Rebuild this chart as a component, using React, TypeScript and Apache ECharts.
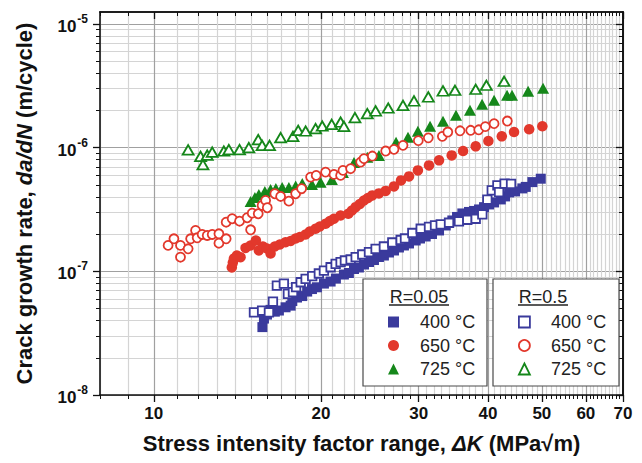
import React, { useEffect, useRef } from 'react';
import * as echarts from 'echarts';

const FONT = '"Liberation Sans", Arial, Helvetica, sans-serif';
const BLUE = '#3a3a9c';
const RED = '#e2382c';
const GREEN = '#15871a';

// Axis ticks
const xMajorTicks = [10, 20, 30, 40, 50, 60, 70];
const yMajorTicks = [1e-8, 1e-7, 1e-6, 1e-5];
const xMinorTicks: number[] = [];
for (let k = 8; k < 70; k++) if (k % 10 !== 0) xMinorTicks.push(k);
const yMinorTicks: number[] = [];
for (let e = -8; e <= -6; e++) for (let m = 2; m <= 9; m++) yMinorTicks.push(m * Math.pow(10, e));

// Legend labels
const temperatures = ['400 °C', '650 °C', '725 °C'];
const ratios = ['R=0.05', 'R=0.5'];

// [ΔK (MPa√m), da/dN (m/cycle)]
const r005_400: [number, number][] = [
  [15.69, 3.54e-8], [15.79, 4.15e-8], [15.99, 4.47e-8], [16.23, 4.88e-8], [16.52, 4.72e-8], [16.8, 4.82e-8],
  [17.27, 5.12e-8], [17.64, 5.28e-8], [17.76, 5.75e-8], [18.11, 6.14e-8], [18.51, 6.31e-8], [18.89, 6.86e-8],
  [19.27, 7.19e-8], [19.67, 7.43e-8], [20.25, 7.96e-8], [20.82, 8.27e-8], [21.28, 8.74e-8], [22.0, 9.42e-8],
  [22.46, 9.69e-8], [22.94, 1.044e-7], [23.41, 1.074e-7], [23.91, 1.135e-7], [24.41, 1.189e-7], [24.92, 1.234e-7],
  [25.44, 1.305e-7], [25.97, 1.342e-7], [26.52, 1.42e-7], [27.08, 1.474e-7], [27.64, 1.559e-7], [28.22, 1.618e-7],
  [28.82, 1.68e-7], [29.63, 1.776e-7], [30.16, 1.843e-7], [30.88, 1.913e-7], [31.7, 2.004e-7], [32.64, 2.14e-7],
  [33.56, 2.349e-7], [34.49, 2.578e-7], [35.17, 2.752e-7], [35.95, 2.938e-7], [36.96, 3.021e-7], [37.74, 3.078e-7],
  [38.53, 3.165e-7], [39.34, 3.304e-7], [40.17, 3.474e-7], [41.01, 3.606e-7], [42.17, 3.814e-7], [42.93, 4.033e-7],
  [43.65, 4.345e-7], [44.74, 4.427e-7], [46.11, 4.683e-7], [46.77, 4.816e-7], [48.07, 5.266e-7], [49.77, 5.61e-7],
];
const r005_650: [number, number][] = [
  [13.82, 1.074e-7], [13.88, 1.178e-7], [13.94, 1.269e-7], [14.11, 1.342e-7], [14.33, 1.301e-7], [14.63, 1.544e-7],
  [14.94, 1.618e-7], [15.27, 1.776e-7], [15.46, 1.474e-7], [15.72, 1.588e-7], [15.99, 1.53e-7], [16.23, 1.393e-7],
  [16.52, 1.588e-7], [16.87, 1.648e-7], [17.27, 1.72e-7], [17.64, 1.759e-7], [18.01, 1.843e-7], [18.33, 1.895e-7],
  [18.77, 1.986e-7], [19.1, 2.101e-7], [19.56, 2.209e-7], [19.91, 2.306e-7], [20.39, 2.424e-7], [20.76, 2.554e-7],
  [21.11, 2.662e-7], [21.7, 2.83e-7], [22.4, 2.921e-7], [22.75, 3.107e-7], [23.1, 3.304e-7], [23.51, 3.507e-7],
  [23.91, 3.743e-7], [24.31, 3.922e-7], [24.75, 4.11e-7], [25.44, 4.266e-7], [26.16, 4.469e-7], [27.08, 4.86e-7],
  [27.88, 5.435e-7], [28.82, 5.855e-7], [29.9, 6.549e-7], [31.31, 7.189e-7], [32.64, 7.892e-7], [34.4, 8.66e-7],
  [36.06, 9.39e-7], [38.0, 1.0245e-6], [40.05, 1.131e-6], [42.34, 1.234e-6], [44.55, 1.338e-6], [47.43, 1.407e-6],
  [50.1, 1.488e-6],
];
const r005_725: [number, number][] = [
  [14.94, 3.67e-7], [15.21, 3.96e-7], [15.46, 4.185e-7], [15.85, 4.427e-7], [16.23, 4.596e-7], [16.59, 4.68e-7],
  [17.03, 4.77e-7], [17.51, 4.77e-7], [18.01, 4.906e-7], [18.51, 5.14e-7], [19.27, 5.04e-7], [19.97, 5.24e-7],
  [20.93, 5.54e-7], [21.91, 6.31e-7], [22.94, 7.6e-7], [24.24, 8.35e-7], [25.44, 8.66e-7], [27.31, 1.104e-6],
  [28.7, 1.212e-6], [29.9, 1.355e-6], [31.45, 1.488e-6], [33.18, 1.633e-6], [35.02, 1.826e-6], [37.11, 2.005e-6],
  [39.02, 2.242e-6], [41.01, 2.415e-6], [43.28, 2.652e-6], [44.18, 2.652e-6], [47.23, 2.857e-6], [50.25, 3.021e-6],
];
const r05_400: [number, number][] = [
  [15.15, 4.66e-8], [15.67, 4.82e-8], [16.12, 4.66e-8], [16.39, 5.69e-8], [16.66, 7.67e-8], [17.15, 7.96e-8],
  [17.44, 6.57e-8], [17.81, 6.8e-8], [18.04, 7.46e-8], [18.39, 8.16e-8], [18.77, 8.7e-8], [19.29, 9.16e-8],
  [19.83, 9.6e-8], [20.25, 1.015e-7], [20.82, 1.079e-7], [21.26, 1.15e-7], [21.7, 1.189e-7], [22.09, 1.223e-7],
  [22.62, 1.246e-7], [23.1, 1.301e-7], [23.74, 1.368e-7], [24.41, 1.428e-7], [25.09, 1.521e-7], [25.97, 1.588e-7],
  [26.89, 1.711e-7], [27.84, 1.792e-7], [28.34, 1.843e-7], [29.22, 2.042e-7], [30.25, 2.209e-7], [31.31, 2.284e-7],
  [32.1, 2.349e-7], [32.87, 2.393e-7], [34.02, 2.47e-7], [35.45, 2.53e-7], [36.7, 2.612e-7], [38.0, 2.662e-7],
  [39.06, 2.883e-7], [39.88, 3.793e-7], [40.62, 4.51e-7], [41.58, 4.951e-7], [41.87, 4.37e-7], [42.84, 5.111e-7],
  [44.0, 5.092e-7],
];
const r05_650: [number, number][] = [
  [10.61, 1.62e-7], [10.87, 1.833e-7], [11.17, 1.62e-7], [11.17, 1.301e-7], [11.53, 1.521e-7], [11.65, 1.833e-7],
  [11.89, 2.14e-7], [11.97, 1.867e-7], [12.22, 1.986e-7], [12.48, 1.95e-7], [12.74, 1.986e-7], [13.1, 2.012e-7],
  [13.1, 1.689e-7], [13.5, 1.833e-7], [13.5, 2.497e-7], [13.84, 2.662e-7], [14.27, 2.544e-7], [14.73, 2.712e-7],
  [14.94, 2.168e-7], [15.04, 2.954e-7], [15.42, 2.921e-7], [15.67, 3.41e-7], [15.9, 3.743e-7], [16.01, 3.267e-7],
  [16.52, 4.24e-7], [16.92, 4.033e-7], [17.51, 3.694e-7], [18.01, 4.24e-7], [18.46, 4.656e-7], [19.16, 5.78e-7],
  [19.61, 5.966e-7], [20.39, 6.345e-7], [21.11, 6.078e-7], [21.7, 5.966e-7], [21.91, 6.549e-7], [22.62, 6.761e-7],
  [23.58, 7.646e-7], [23.91, 8.146e-7], [24.75, 8.55e-7], [26.16, 9.39e-7], [27.08, 9.69e-7], [28.11, 1.044e-6],
  [29.95, 1.139e-6], [31.22, 1.2e-6], [33.09, 1.234e-6], [33.85, 1.338e-6], [35.61, 1.368e-6], [37.22, 1.381e-6],
  [38.48, 1.394e-6], [39.55, 1.479e-6], [41.01, 1.564e-6], [43.33, 1.642e-6],
];
const r05_725: [number, number][] = [
  [11.53, 9.6e-7], [12.14, 8.5e-7], [12.26, 7.3e-7], [12.48, 8.7e-7], [12.74, 9.2e-7], [13.37, 9.39e-7],
  [13.65, 9.63e-7], [14.27, 9.63e-7], [14.83, 1.0e-6], [15.42, 1.161e-6], [15.67, 1.044e-6], [16.16, 1.044e-6],
  [16.92, 1.205e-6], [17.81, 1.234e-6], [18.2, 1.381e-6], [18.77, 1.363e-6], [19.56, 1.425e-6], [20.11, 1.496e-6],
  [20.91, 1.544e-6], [21.7, 1.612e-6], [22.0, 1.488e-6], [23.03, 1.75e-6], [24.24, 1.885e-6], [25.09, 1.979e-6],
  [26.44, 2.092e-6], [28.11, 2.2e-6], [29.42, 2.384e-6], [31.22, 2.569e-6], [33.18, 2.873e-6], [34.87, 2.911e-6],
  [38.0, 2.966e-6], [39.72, 3.195e-6], [42.75, 3.442e-6],
];

type Def = { ratio: number; temp: number; data: [number, number][]; symbol: string; size: number | number[]; color: string; hollow: boolean };
const defs: Def[] = [
  { ratio: 0, temp: 0, data: r005_400, symbol: 'rect', size: 10, color: BLUE, hollow: false },
  { ratio: 0, temp: 1, data: r005_650, symbol: 'circle', size: 10.5, color: RED, hollow: false },
  { ratio: 0, temp: 2, data: r005_725, symbol: 'triangle', size: [12, 11], color: GREEN, hollow: false },
  { ratio: 1, temp: 0, data: r05_400, symbol: 'rect', size: 8.5, color: BLUE, hollow: true },
  { ratio: 1, temp: 1, data: r05_650, symbol: 'circle', size: 9, color: RED, hollow: true },
  { ratio: 1, temp: 2, data: r05_725, symbol: 'triangle', size: [11, 9.5], color: GREEN, hollow: true },
];
const seriesName = (d: Def) => `${ratios[d.ratio]}|${temperatures[d.temp]}`;

function App() {
  const ref = useRef<HTMLDivElement>(null);
  useEffect(() => {
    document.body.style.margin = '0';
    const chart = echarts.init(ref.current!, null, { renderer: 'svg' });
    const X0 = 8, X1 = 70, Y0 = 1e-8, Y1 = 1.25e-5;
    const gridLine = (c: string) => ({ show: true, lineStyle: { color: c, width: 1.2, type: 'solid' as const } });
    const frame = { show: true, onZero: false, lineStyle: { color: '#111', width: 1.6 } };
    const xBase = { type: 'log' as const, logBase: 10, min: X0, max: X1, gridIndex: 0 };
    const yBase = { type: 'log' as const, logBase: 10, min: Y0, max: Y1, gridIndex: 0 };
    const itemStyleOf = (d: Def) =>
      d.hollow
        ? { color: '#ffffff', borderColor: d.color, borderWidth: 1.8, opacity: 1 }
        : { color: d.color, borderWidth: 0, opacity: 1 };
    const legendOf = (ratio: number, left: number) => ({
      show: true,
      orient: 'vertical' as const,
      left,
      top: 313,
      itemWidth: 11,
      itemHeight: 11,
      itemGap: 5.5,
      padding: 0,
      selectedMode: false,
      z: 20,
      formatter: (n: string) => n.split('|')[1],
      textStyle: { fontFamily: FONT, fontSize: 18, color: '#222', lineHeight: 18, padding: [0, 0, 0, 16] },
      data: defs
        .filter((d) => d.ratio === ratio)
        .map((d) => ({ name: seriesName(d), icon: d.symbol, itemStyle: itemStyleOf(d) })),
    });
    chart.setOption({
      animation: false,
      backgroundColor: '#ffffff',
      textStyle: { fontFamily: FONT },
      grid: { left: 100, top: 12, width: 523, height: 383, containLabel: false, outerBoundsMode: 'none' },
      xAxis: [
        {
          ...xBase, position: 'bottom', axisLine: { show: false, onZero: false },
          axisTick: { show: true, length: 4, customValues: xMinorTicks, lineStyle: { color: '#111', width: 1 } },
          axisLabel: { show: false }, splitLine: gridLine('#d4d4d4'),
        },
        {
          ...xBase, position: 'bottom', axisLine: frame,
          axisTick: { show: true, length: 7, customValues: xMajorTicks, lineStyle: { color: '#111', width: 1.3 } },
          axisLabel: {
            show: true, customValues: xMajorTicks, margin: 10, color: '#111', fontFamily: FONT, fontSize: 17, fontWeight: 'bold',
            formatter: (v: number) => String(Math.round(v)),
          },
          splitLine: gridLine('#a0a0a0'),
          name: 'Stress intensity factor range, {i|ΔK} (MPa√m)',
          nameLocation: 'middle', nameGap: 37,
          nameTextStyle: {
            fontFamily: FONT, fontSize: 22, fontWeight: 'bold', color: '#111',
            rich: { i: { fontFamily: FONT, fontSize: 22, fontWeight: 'bold', fontStyle: 'italic', color: '#111' } },
          },
        },
        {
          ...xBase, position: 'top', axisLine: frame,
          axisTick: { show: true, inside: true, length: 4, customValues: xMinorTicks, lineStyle: { color: '#111', width: 1 } },
          axisLabel: { show: false }, splitLine: { show: false },
        },
        {
          ...xBase, position: 'top', axisLine: frame,
          axisTick: { show: true, inside: true, length: 7, customValues: xMajorTicks, lineStyle: { color: '#111', width: 1.3 } },
          axisLabel: { show: false }, splitLine: { show: false },
        },
      ],
      yAxis: [
        {
          ...yBase, position: 'left', axisLine: { show: false, onZero: false },
          axisTick: { show: true, length: 4, customValues: yMinorTicks, lineStyle: { color: '#111', width: 1 } },
          axisLabel: { show: false }, splitLine: gridLine('#d4d4d4'),
        },
        {
          ...yBase, position: 'left', axisLine: frame,
          axisTick: { show: true, length: 7, customValues: yMajorTicks, lineStyle: { color: '#111', width: 1.3 } },
          axisLabel: {
            show: true, customValues: yMajorTicks, margin: 12, color: '#111',
            formatter: (v: number) => `{b|10}{s|${Math.round(Math.log10(v))}}`,
            rich: {
              b: { fontFamily: FONT, fontSize: 17, fontWeight: 'bold', color: '#111', lineHeight: 22, verticalAlign: 'bottom' },
              s: { fontFamily: FONT, fontSize: 12, fontWeight: 'bold', color: '#111', lineHeight: 22, verticalAlign: 'top', padding: [0, 0, 10, 1] },
            },
          },
          splitLine: gridLine('#a0a0a0'),
          name: 'Crack growth rate, {i|da/dN} (m/cycle)',
          nameLocation: 'middle', nameGap: 65,
          nameTextStyle: {
            fontFamily: FONT, fontSize: 22, fontWeight: 'bold', color: '#111',
            rich: { i: { fontFamily: FONT, fontSize: 22, fontWeight: 'bold', fontStyle: 'italic', color: '#111' } },
          },
        },
        {
          ...yBase, position: 'right', axisLine: frame,
          axisTick: { show: true, inside: true, length: 4, customValues: yMinorTicks, lineStyle: { color: '#111', width: 1 } },
          axisLabel: { show: false }, splitLine: { show: false },
        },
        {
          ...yBase, position: 'right', axisLine: frame,
          axisTick: { show: true, inside: true, length: 7, customValues: yMajorTicks, lineStyle: { color: '#111', width: 1.3 } },
          axisLabel: { show: false }, splitLine: { show: false },
        },
      ],
      legend: [legendOf(0, 388), legendOf(1, 518)],
      graphic: [
        { type: 'rect', z: 10, shape: { x: 363, y: 279, width: 124, height: 107 }, style: { fill: '#fff', stroke: '#4a4a4a', lineWidth: 1.2 } },
        { type: 'rect', z: 10, shape: { x: 493, y: 279, width: 126, height: 107 }, style: { fill: '#fff', stroke: '#4a4a4a', lineWidth: 1.2 } },
        { type: 'text', z: 11, x: 419, y: 297, style: { text: ratios[0], fontFamily: FONT, fontSize: 18, fill: '#222', align: 'center', verticalAlign: 'middle' } },
        { type: 'line', z: 11, shape: { x1: 389, y1: 305, x2: 449, y2: 305 }, style: { stroke: '#222', lineWidth: 1.5 } },
        { type: 'text', z: 11, x: 543, y: 297, style: { text: ratios[1], fontFamily: FONT, fontSize: 18, fill: '#222', align: 'center', verticalAlign: 'middle' } },
        { type: 'line', z: 11, shape: { x1: 518, y1: 305, x2: 568, y2: 305 }, style: { stroke: '#222', lineWidth: 1.5 } },
      ],
      series: defs.map((d) => ({
        type: 'scatter',
        name: seriesName(d),
        xAxisIndex: 0,
        yAxisIndex: 0,
        symbol: d.symbol,
        symbolSize: d.size,
        itemStyle: itemStyleOf(d),
        z: 3,
        data: d.data,
      })),
    });
    return () => chart.dispose();
  }, []);
  return <div ref={ref} style={{ position: 'absolute', left: 0, top: 0, width: 642, height: 463, background: '#fff' }} />;
}

export default App;
